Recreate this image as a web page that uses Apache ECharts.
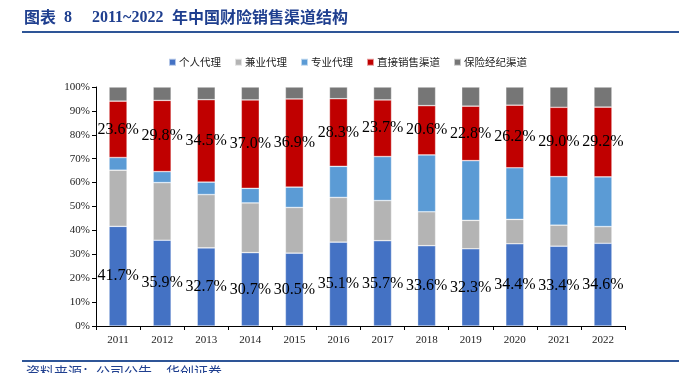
<!DOCTYPE html>
<html><head><meta charset="utf-8">
<script src="https://cdn.jsdelivr.net/npm/echarts@6/dist/echarts.min.js"></script>
<style>html,body{margin:0;padding:0;background:#fff}#c{width:679px;height:373px}</style>
</head><body><div id="c"></div>
<script>
var years = ['2011','2012','2013','2014','2015','2016','2017','2018','2019','2020','2021','2022'];
var seriesNames = ['个人代理','兼业代理','专业代理','直接销售渠道','保险经纪渠道'];
var personal = [41.7,35.9,32.7,30.7,30.5,35.1,35.7,33.6,32.3,34.4,33.4,34.6];
var concurrent = [23.5,24.1,22.3,20.8,19.1,18.7,16.8,14.2,11.9,10.2,8.8,7.0];
var professional = [5.3,4.6,5.2,6.1,8.5,13.0,18.4,23.8,25.0,21.6,20.3,20.8];
var direct = [23.6,29.8,34.5,37.0,36.9,28.3,23.7,20.6,22.8,26.2,29.0,29.2];
var broker = [5.9,5.6,5.3,5.4,5.0,4.9,5.4,7.8,8.0,7.6,8.5,8.4];
var yTicks = ['0%','10%','20%','30%','40%','50%','60%','70%','80%','90%','100%'];
var colors = ['#4472C4','#B4B4B4','#5B9BD5','#C00000','#767676'];
var dataSets = [personal, concurrent, professional, direct, broker];
var labeled = [true,false,false,true,false];

var chart = echarts.init(document.getElementById('c'));
var series = seriesNames.map(function(n,i){
  return {
    name:n, type:'bar', stack:'s', data:dataSets[i], barWidth:18,
    itemStyle:{color:colors[i], borderColor:'rgba(255,255,255,0.6)', borderWidth:0.6},
    label:{show:labeled[i], position:'inside', formatter:function(p){return p.value.toFixed(1)+'%';},
      fontFamily:'Liberation Serif', fontSize:16, color:'#000'},
    animation:false
  };
});
var cjk = {fontFamily:'Noto Sans CJK SC', fontWeight:'bold', fontSize:16, fill:'#1F3F8F'};
var num = {fontFamily:'Liberation Serif', fontWeight:'bold', fontSize:16, fill:'#1F3F8F'};
chart.setOption({
  animation:false,
  textStyle:{fontFamily:'Liberation Serif'},
  grid:{left:96, right:54, top:87, bottom:47},
  legend:{top:52, left:163, itemWidth:7, itemHeight:7, itemGap:13, icon:'rect',
    textStyle:{fontFamily:'Noto Sans CJK SC', fontSize:10.5, color:'#222', padding:[0,0,0,-2]}, data:seriesNames},
  xAxis:{type:'category', data:years,
    axisLine:{lineStyle:{color:'#000'}}, axisTick:{show:true, alignWithLabel:false, length:4, lineStyle:{color:'#000'}},
    axisLabel:{fontFamily:'Liberation Serif', fontSize:11, color:'#222', margin:9}},
  yAxis:{type:'value', min:0, max:100, interval:10,
    axisLine:{show:true, lineStyle:{color:'#000'}}, axisTick:{show:true, length:4, lineStyle:{color:'#000'}},
    splitLine:{show:false},
    axisLabel:{fontFamily:'Liberation Serif', fontSize:11, color:'#222', margin:6,
      formatter:function(v){return yTicks[Math.round(v/10)];}}},
  series:series,
  graphic:[
    {type:'text', left:24, top:9, style:{text:'图表', font:'bold 16px "Noto Sans CJK SC"', fill:'#1F3F8F'}},
    {type:'text', left:64, top:10, style:{text:'8', font:'bold 16px "Liberation Serif"', fill:'#1F3F8F'}},
    {type:'text', left:92, top:10, style:{text:'2011~2022', font:'bold 16px "Liberation Serif"', fill:'#1F3F8F'}},
    {type:'text', left:172, top:9, style:{text:'年中国财险销售渠道结构', font:'bold 16px "Noto Sans CJK SC"', fill:'#1F3F8F'}},
    {type:'rect', shape:{x:22, y:31, width:657, height:2}, style:{fill:'#2E5597'}},
    {type:'rect', shape:{x:22, y:360, width:657, height:2}, style:{fill:'#2E5597'}},
    {type:'text', left:26, top:365, style:{text:'资料来源：公司公告，华创证券', font:'14px "Noto Sans CJK SC"', fill:'#1F3F8F'}}
  ]
});
</script></body></html>
